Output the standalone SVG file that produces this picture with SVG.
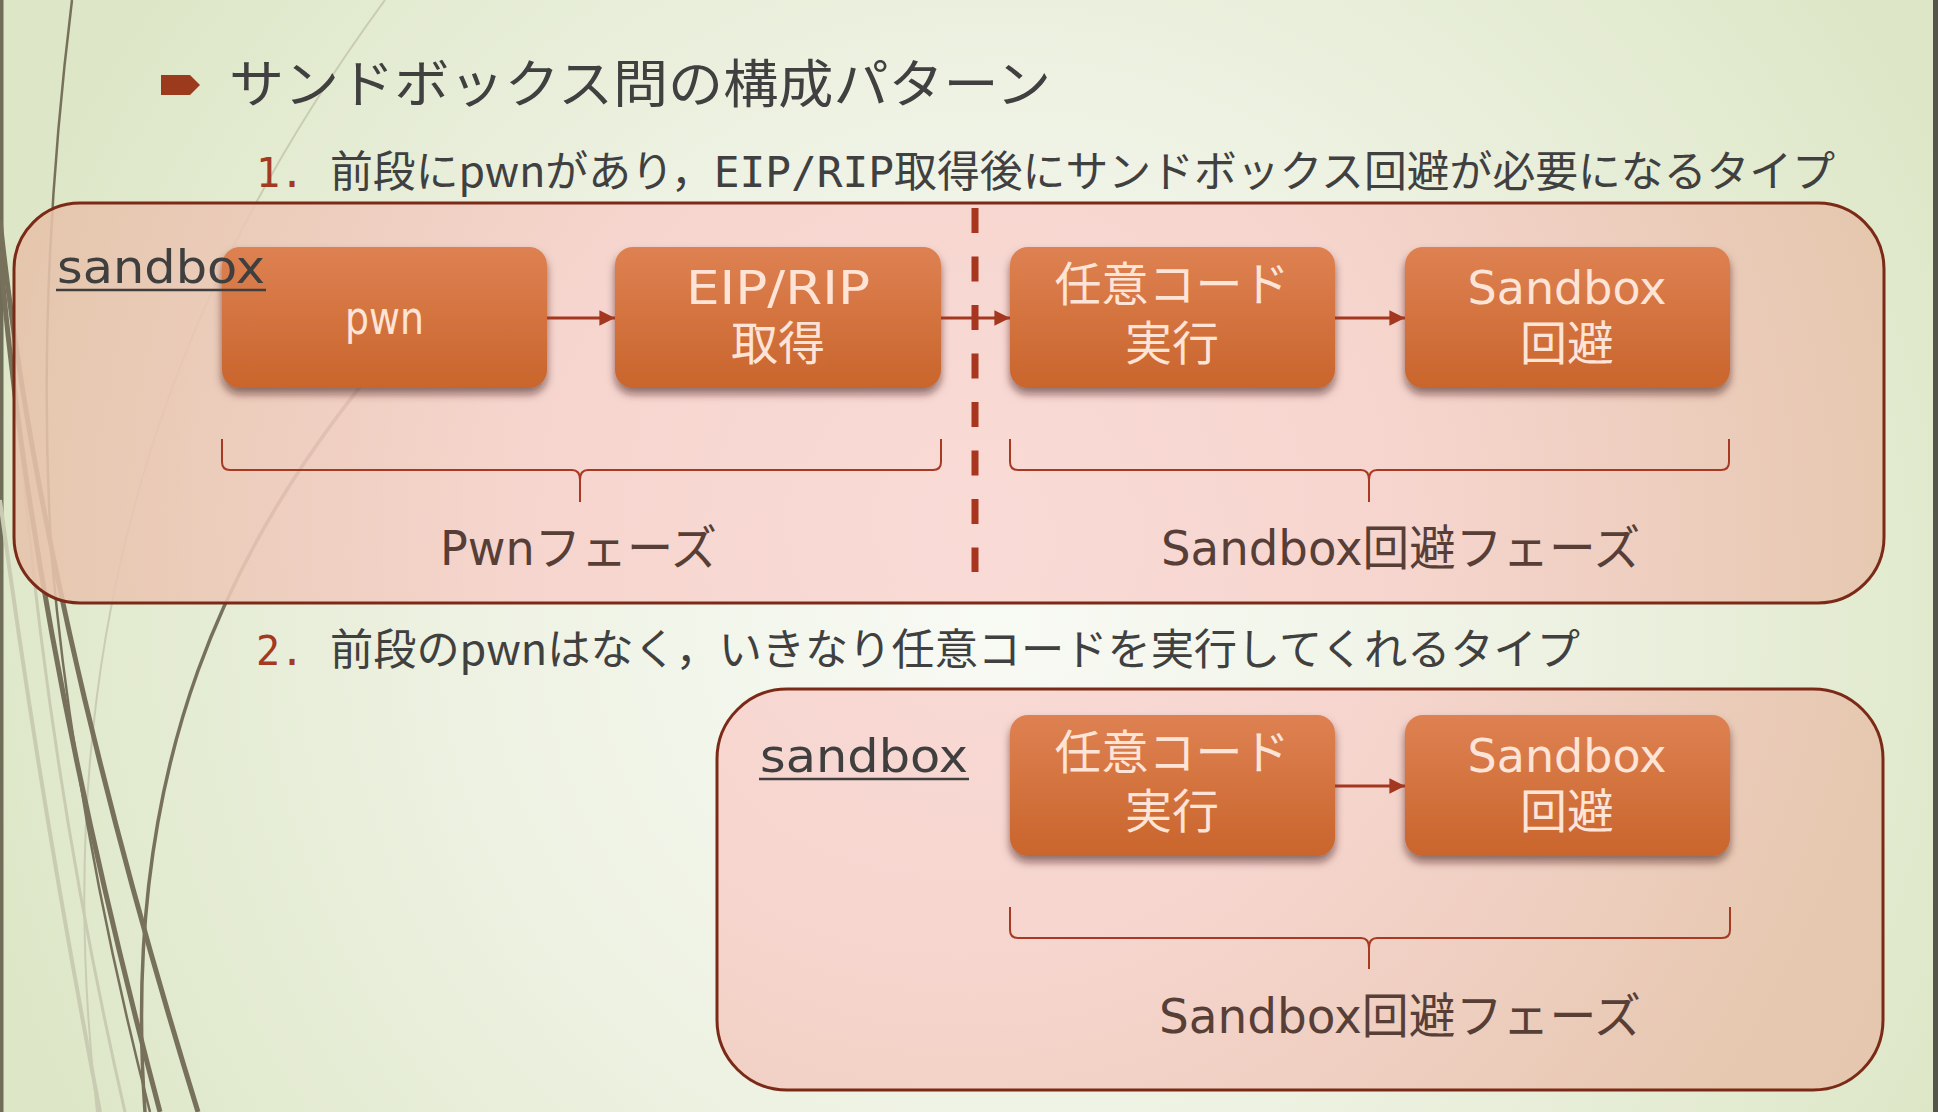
<svg xmlns="http://www.w3.org/2000/svg" width="1938" height="1112" viewBox="0 0 1938 1112">
  <defs>
    <radialGradient id="bg" gradientUnits="userSpaceOnUse" cx="1000" cy="620" r="1050">
      <stop offset="0" stop-color="#f8faf4"/>
      <stop offset="0.5" stop-color="#eef2e3"/>
      <stop offset="1" stop-color="#dde7c7"/>
    </radialGradient>
    <radialGradient id="sbfill" gradientUnits="userSpaceOnUse" cx="960" cy="520" r="960">
      <stop offset="0" stop-color="#fad6d2"/>
      <stop offset="0.45" stop-color="#f7d1cb"/>
      <stop offset="1" stop-color="#e6c2aa"/>
    </radialGradient>
    <linearGradient id="nodefill" x1="0" y1="0" x2="0" y2="1">
      <stop offset="0" stop-color="#de8152"/>
      <stop offset="1" stop-color="#c9652c"/>
    </linearGradient>
    <filter id="shadow" x="-10%" y="-10%" width="120%" height="135%">
      <feDropShadow dx="0" dy="6" stdDeviation="4" flood-color="#3a160a" flood-opacity="0.55"/>
    </filter>
    <marker id="arrow" viewBox="0 0 10 10" refX="10" refY="5" markerWidth="5.6" markerHeight="5.2" markerUnits="strokeWidth" orient="auto">
      <path d="M0,0 L10,5 L0,10 Z" fill="#a3371f"/>
    </marker>
    <style>
      .title { font-family: 'Noto Sans CJK JP', sans-serif; font-size: 52px; fill: #404040; }
      .item { font-family: 'Noto Sans CJK JP', sans-serif; font-size: 43px; fill: #404040; }
      .num { font-family: 'DejaVu Sans Mono', 'Liberation Mono', monospace; font-size: 40px; fill: #a3391f; }
      .mono { font-family: 'DejaVu Sans Mono', 'Liberation Mono', monospace; }
      .sb { fill: url(#sbfill); fill-opacity: 0.88; stroke: #7b2a17; stroke-width: 3; }
      .sblabel { font-family: 'DejaVu Sans', sans-serif; font-size: 47px; fill: #3f3f3f; }
      .uline { stroke: #3f3f3f; stroke-width: 2.5; }
      .node rect { fill: url(#nodefill); filter: url(#shadow); }
      .ntext { font-family: 'DejaVu Sans', 'Noto Sans CJK JP', sans-serif; font-size: 46px; fill: #fde4d7; text-anchor: middle; }
      .ncjk { font-family: 'Noto Sans CJK JP', sans-serif; font-size: 47px; fill: #fde4d7; text-anchor: middle; }
      .conn { stroke: #a3371f; stroke-width: 3; fill: none; marker-end: url(#arrow); }
      .brace { stroke: #a63a22; stroke-width: 2; fill: none; }
      .phase { font-family: 'DejaVu Sans', 'Noto Sans CJK JP', sans-serif; font-size: 48px; fill: #573f38; }
      .decor-dark { stroke: #77715b; fill: none; }
      .decor-light { stroke: #c9ccb2; fill: none; }
    </style>
  </defs>

  <!-- background -->
  <rect x="0" y="0" width="1938" height="1112" fill="url(#bg)"/>
  <rect x="0" y="0" width="3.5" height="1112" fill="#6f6c58"/>
  <rect x="1933" y="0" width="5" height="1112" fill="#55544a"/>

  <!-- decorative wisps -->
  <g id="decor">
    <path class="decor-light" stroke-width="2" d="M385,0 C180,280 40,620 97,1112"/>
    <path class="decor-light" stroke-width="4" d="M0,500 Q40,800 100,1112"/>
    <path class="decor-light" stroke-width="3" d="M10,300 Q35,720 125,1112"/>
    <path class="decor-dark" stroke-width="2.5" d="M72,0 Q35,300 52,560 Q75,820 150,1112"/>
    <path class="decor-dark" stroke-width="5" d="M0,220 Q40,600 198,1112"/>
    <path class="decor-dark" stroke-width="5" d="M0,250 Q30,620 160,1112"/>
    <path class="decor-dark" stroke-width="3.5" d="M390,350 C230,540 120,760 145,1112"/>
  </g>

  <!-- title -->
  <polygon points="161,75 190,75 200,85 190,95 161,95" fill="#9c3a1e"/>
  <text class="title" x="229" y="103" textLength="822" lengthAdjust="spacingAndGlyphs">サンドボックス問の構成パターン</text>

  <!-- item 1 -->
  <text class="num" x="256" y="187">1.</text>
  <text class="item" x="330" y="187" textLength="1505" lengthAdjust="spacingAndGlyphs">前段にpwnがあり，<tspan class="mono">EIP/RIP</tspan>取得後にサンドボックス回避が必要になるタイプ</text>

  <!-- sandbox 1 container -->
  <g id="sandbox1">
    <rect class="sb" x="14" y="203" width="1870" height="400" rx="66" ry="66"/>
  </g>

  <!-- phase divider -->
  <line id="divider" x1="975" y1="208" x2="975" y2="572" stroke="#a8361e" stroke-width="7" stroke-dasharray="25 23.5"/>

  <!-- item 2 -->
  <text class="num" x="256" y="665">2.</text>
  <text class="item" x="330" y="665" textLength="1250" lengthAdjust="spacingAndGlyphs">前段のpwnはなく，いきなり任意コードを実行してくれるタイプ</text>

  <!-- sandbox 2 container -->
  <g id="sandbox2">
    <rect class="sb" x="717" y="689" width="1166" height="401" rx="70" ry="70"/>
    <text class="sblabel" x="760" y="772" textLength="208" lengthAdjust="spacingAndGlyphs">sandbox</text>
    <line class="uline" x1="759" y1="779" x2="969" y2="779"/>
  </g>

  <!-- nodes row 1 -->
  <g id="n-pwn" class="node">
    <rect x="222" y="247" width="325" height="141" rx="18" ry="18"/>
    <text class="ntext" x="384.5" y="334" textLength="79" lengthAdjust="spacingAndGlyphs">pwn</text>
  </g>
  <g id="n-eip" class="node">
    <rect x="615" y="247" width="326" height="141" rx="18" ry="18"/>
    <text class="ntext mono" x="778" y="304" font-size="43" textLength="184" lengthAdjust="spacingAndGlyphs">EIP/RIP</text>
    <text class="ncjk" x="778" y="360">取得</text>
  </g>
  <g id="n-code1" class="node">
    <rect x="1010" y="247" width="325" height="141" rx="18" ry="18"/>
    <text class="ncjk" x="1172" y="301">任意コード</text>
    <text class="ncjk" x="1172" y="360">実行</text>
  </g>
  <g id="n-escape1" class="node">
    <rect x="1405" y="247" width="325" height="141" rx="18" ry="18"/>
    <text class="ntext" x="1567" y="304" font-size="42">Sandbox</text>
    <text class="ncjk" x="1567" y="360">回避</text>
  </g>

  <!-- sandbox 1 label (drawn over the pwn node, as in the reference) -->
  <g id="sandbox1-label">
    <text class="sblabel" x="57" y="283" textLength="208" lengthAdjust="spacingAndGlyphs">sandbox</text>
    <line class="uline" x1="56" y1="290" x2="266" y2="290"/>
  </g>

  <!-- nodes row 2 -->
  <g id="n-code2" class="node">
    <rect x="1010" y="715" width="325" height="141" rx="18" ry="18"/>
    <text class="ncjk" x="1172" y="769">任意コード</text>
    <text class="ncjk" x="1172" y="828">実行</text>
  </g>
  <g id="n-escape2" class="node">
    <rect x="1405" y="715" width="325" height="141" rx="18" ry="18"/>
    <text class="ntext" x="1567" y="772" font-size="42">Sandbox</text>
    <text class="ncjk" x="1567" y="828">回避</text>
  </g>

  <!-- connectors -->
  <g id="connectors">
    <line class="conn" x1="547" y1="318" x2="615" y2="318"/>
    <line class="conn" x1="941" y1="318" x2="1010" y2="318"/>
    <line class="conn" x1="1335" y1="318" x2="1405" y2="318"/>
    <line class="conn" x1="1335" y1="786" x2="1405" y2="786"/>
  </g>

  <!-- braces and phase labels -->
  <g id="phases">
    <path class="brace" d="M222,439 V462 Q222,470 230,470 H572 Q580,470 580,480 V502 M580,480 Q580,470 588,470 H933 Q941,470 941,462 V439"/>
    <path class="brace" d="M1010,439 V462 Q1010,470 1018,470 H1361 Q1369,470 1369,480 V502 M1369,480 Q1369,470 1377,470 H1721 Q1729,470 1729,462 V439"/>
    <path class="brace" d="M1010,907 V930 Q1010,938 1018,938 H1361 Q1369,938 1369,948 V969 M1369,948 Q1369,938 1377,938 H1722 Q1730,938 1730,930 V907"/>
    <text class="phase" x="440" y="565" textLength="277" lengthAdjust="spacingAndGlyphs">Pwnフェーズ</text>
    <text class="phase" x="1161" y="565" textLength="479" lengthAdjust="spacingAndGlyphs">Sandbox回避フェーズ</text>
    <text class="phase" x="1159" y="1033" textLength="482" lengthAdjust="spacingAndGlyphs">Sandbox回避フェーズ</text>
  </g>
</svg>
